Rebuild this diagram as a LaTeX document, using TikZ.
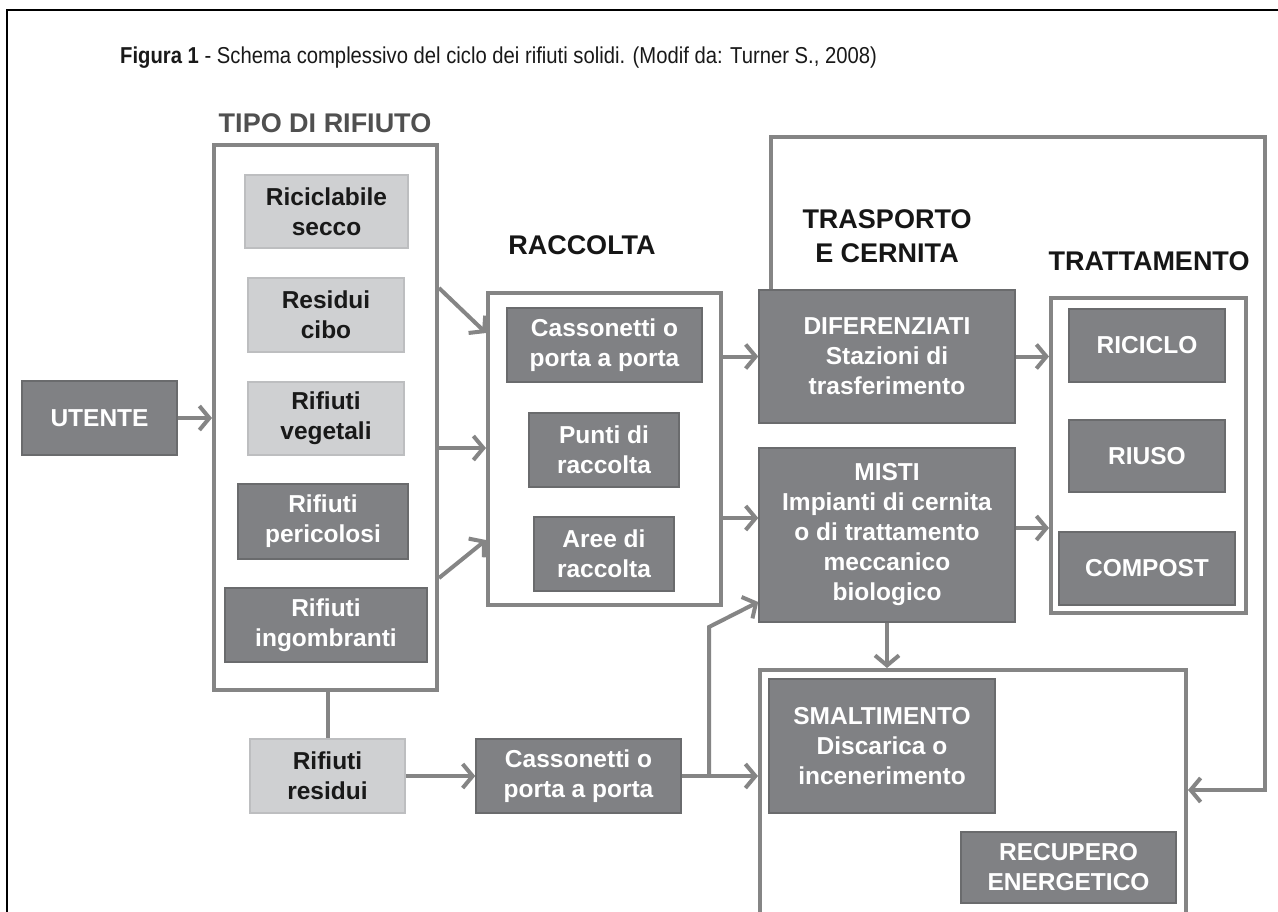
\documentclass[tikz,border=0pt]{standalone}
\usepackage{fontspec}
\setmainfont{Liberation Sans}
\usepackage{graphicx}
\usetikzlibrary{arrows.meta}
\definecolor{darkfill}{HTML}{808184}
\definecolor{darkedge}{HTML}{6A6B6D}
\definecolor{lightfill}{HTML}{CFD0D2}
\definecolor{lightedge}{HTML}{BDBEC0}
\definecolor{linec}{HTML}{858585}
\definecolor{headgray}{HTML}{505050}
\definecolor{headblack}{HTML}{161616}
\begin{document}
\begin{tikzpicture}[x=1pt,y=-1pt,
 boxfont/.style={font=\fontsize{24.5}{30}\selectfont\bfseries},
 sz/.style 2 args={minimum width=#1pt, minimum height=#2pt},
 dbox/.style={boxfont, draw=darkedge, fill=darkfill, line width=1.5pt, text=white, align=center, inner sep=0pt},
 lbox/.style={boxfont, draw=lightedge, fill=lightfill, line width=1.5pt, text=black!90, align=center, inner sep=0pt},
 cont/.style={draw=linec, line width=4pt, inner sep=0pt},
 conn/.style={draw=linec, line width=4pt},
 arr/.style={conn, -{Straight Barb[length=10pt,width=24pt]}},
 head/.style={font=\fontsize{27}{34}\selectfont\bfseries, align=center, inner sep=0pt, text=headblack},
]
\fill[white] (0,0) rectangle (1278,911);
\useasboundingbox (0,0) rectangle (1278,911);
% outer frame
\draw[black, line width=1.5pt] (1280,10) -- (7,10) -- (7,915);
% title
\node[anchor=west, inner sep=0pt, font=\fontsize{23}{27}\selectfont, text=black!90] (title) at (120,58)
 {\scalebox{0.88}[1]{\textbf{Figura 1} - Schema complessivo del ciclo dei rifiuti solidi. (Modif da: Turner S., 2008)}};
% headings
\node[head, text=headgray] (htipo) at (325,123) {TIPO DI RIFIUTO};
\node[head] (hracc) at (582,245) {RACCOLTA};
\node[head] (htrasp) at (887,236) {TRASPORTO\\E CERNITA};
\node[head] (htratt) at (1149,261) {TRATTAMENTO};
% containers
\node[cont, sz={223}{545}] (tipo) at (325.5,417.5) {};
\node[cont, sz={233}{312}] (racc) at (604.5,449) {};
\node[cont, sz={195}{315}] (tratt) at (1148.5,455.5) {};
\node[cont, sz={426}{260}] (disp) at (973,800) {};
% boxes
\node[dbox, sz={155}{74}] (utente) at (99.5,418) {UTENTE};
\node[lbox, sz={163}{73}] (ric) at (326.5,211.5) {Riciclabile\\secco};
\node[lbox, sz={156}{74}] (cibo) at (326,315) {Residui\\cibo};
\node[lbox, sz={156}{73}] (veg) at (326,418.5) {Rifiuti\\vegetali};
\node[dbox, sz={170}{75}] (per) at (323,521.5) {Rifiuti\\pericolosi};
\node[dbox, sz={202}{74}] (ing) at (326,625) {Rifiuti\\ingombranti};
\node[lbox, sz={155}{74}] (res) at (327.5,776) {Rifiuti\\residui};
\node[dbox, sz={195}{74}] (cas1) at (604.5,345) {Cassonetti o\\porta a porta};
\node[dbox, sz={150}{74}] (punti) at (604,450) {Punti di\\raccolta};
\node[dbox, sz={140}{74}] (aree) at (604,554) {Aree di\\raccolta};
\node[dbox, sz={205}{74}] (cas2) at (578.5,776) {Cassonetti o\\porta a porta};
\node[dbox, sz={256}{133}] (diff) at (887,356.5) {DIFERENZIATI\\Stazioni di\\trasferimento};
\node[dbox, sz={256}{174}] (misti) at (887,535) {MISTI\\Impianti di cernita\\o di trattamento\\meccanico\\biologico};
\node[dbox, sz={156}{73}] (riciclo) at (1147,345.5) {RICICLO};
\node[dbox, sz={156}{72}] (riuso) at (1147,456) {RIUSO};
\node[dbox, sz={176}{73}] (compost) at (1147,568.5) {COMPOST};
\node[dbox, sz={226}{134}] (smal) at (882,746) {SMALTIMENTO\\Discarica o\\incenerimento};
\node[dbox, sz={215}{71}] (recup) at (1068.5,867.5) {RECUPERO\\ENERGETICO};
% helper coordinates
\coordinate (h288) at (0,288);
\coordinate (h333) at (0,333);
\coordinate (h448) at (0,448);
\coordinate (h578) at (0,578);
\coordinate (h540) at (0,540);
\coordinate (h518) at (0,518);
\coordinate (h528) at (0,528);
\coordinate (br1) at (709,776);
\coordinate (br2) at (709,627);
\coordinate (h602) at (0,602);
\coordinate (fb1) at (771,137);
\coordinate (fb2) at (1265,137);
\coordinate (fb3) at (1265,790);
% connectors
\draw[arr] (utente.east) -- (utente.east -| tipo.west);
\draw[arr] (tipo.east |- h288) -- (racc.west |- h333);
\draw[arr] (tipo.east |- h448) -- (racc.west |- h448);
\draw[arr] (tipo.east |- h578) -- (racc.west |- h540);
\draw[conn] (res.north |- tipo.south) -- (res.north);
\draw[arr] (res.east) -- (cas2.west);
\draw[arr] (cas2.east) -- (cas2.east -| disp.west);
\draw[arr] (br1) -- (br2) -- (misti.west |- h602);
\draw[arr] (racc.east |- diff.west) -- (diff.west);
\draw[arr] (racc.east |- h518) -- (misti.west |- h518);
\draw[arr] (diff.east) -- (diff.east -| tratt.west);
\draw[arr] (misti.east |- h528) -- (tratt.west |- h528);
\draw[arr] (misti.south) -- (misti.south |- disp.north);
\draw[arr] (diff.north -| fb1) -- (fb1) -- (fb2) -- (fb3) -- (fb3 -| disp.east);
\end{tikzpicture}
\end{document}
